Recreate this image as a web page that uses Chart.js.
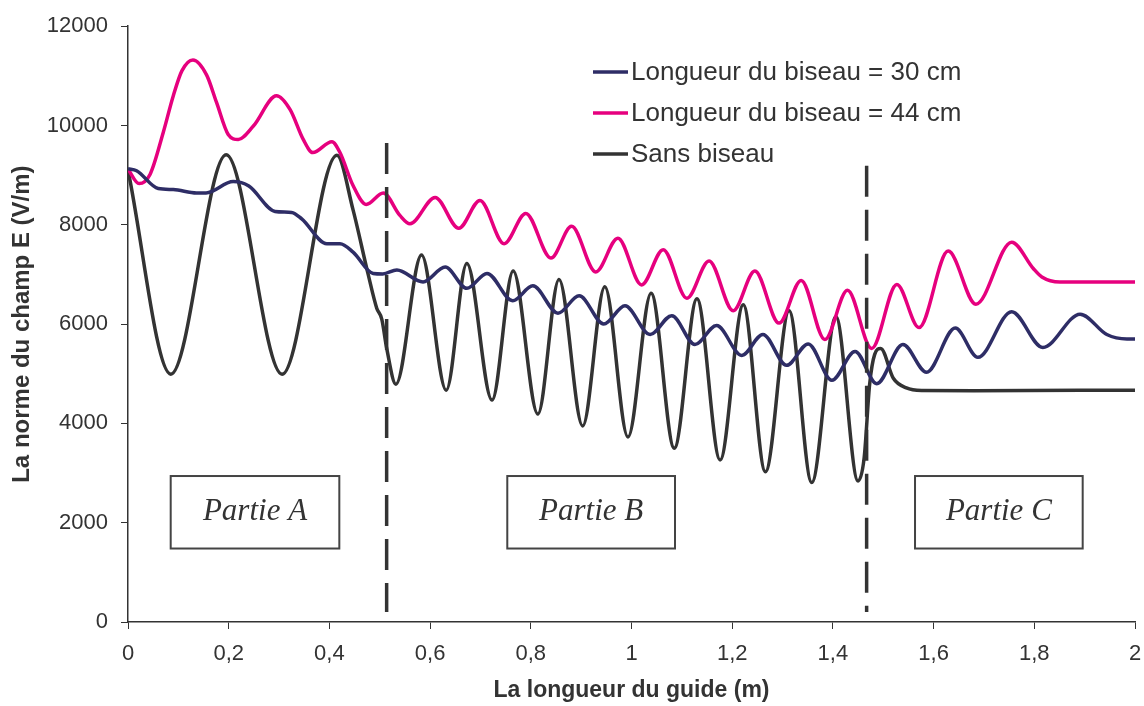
<!DOCTYPE html>
<html lang="fr">
<head>
<meta charset="utf-8">
<title>Norme du champ E</title>
<script src="https://cdn.jsdelivr.net/npm/chart.js@4/dist/chart.umd.min.js"></script>
<style>
  html, body { margin:0; padding:0; background:#fff; }
  #graphe { display:block; }
</style>
</head>
<body>
<canvas id="graphe" width="1144" height="706"></canvas>
<script>
// Valeurs (x en m, y en V/m)
const xBiseau30 = [0, 0.017, 0.060, 0.090, 0.136, 0.155, 0.209, 0.240, 0.292, 0.325, 0.345, 0.395, 0.421, 0.447, 0.487, 0.506, 0.534, 0.586, 0.630, 0.673, 0.713, 0.764, 0.804, 0.854, 0.896, 0.945, 0.987, 1.037, 1.080, 1.126, 1.169, 1.219, 1.261, 1.308, 1.351, 1.398, 1.444, 1.487, 1.539, 1.586, 1.643, 1.688, 1.755, 1.817, 1.891, 1.944, 1.984, 2.0];
const yBiseau30 = [9130, 9090, 8730, 8710, 8640, 8640, 8870, 8780, 8270, 8250, 8120, 7620, 7620, 7450, 7020, 7010, 7090, 6850, 7150, 6720, 7020, 6470, 6770, 6220, 6570, 6000, 6370, 5790, 6170, 5590, 5970, 5370, 5790, 5170, 5600, 4870, 5450, 4800, 5590, 5030, 5920, 5330, 6250, 5530, 6200, 5790, 5700, 5700];

const xBiseau44 = [0, 0.022, 0.044, 0.070, 0.090, 0.107, 0.129, 0.156, 0.176, 0.199, 0.219, 0.249, 0.295, 0.322, 0.348, 0.367, 0.405, 0.421, 0.447, 0.473, 0.507, 0.540, 0.560, 0.610, 0.657, 0.699, 0.747, 0.790, 0.840, 0.881, 0.929, 0.973, 1.020, 1.063, 1.110, 1.154, 1.202, 1.245, 1.293, 1.337, 1.384, 1.429, 1.477, 1.527, 1.571, 1.629, 1.684, 1.755, 1.798, 1.815, 1.851, 2.0];
const yBiseau44 = [9120, 8830, 9020, 9860, 10600, 11100, 11320, 11020, 10460, 9820, 9720, 9990, 10600, 10320, 9720, 9455, 9675, 9455, 8790, 8410, 8640, 8190, 8020, 8550, 7930, 8490, 7620, 8230, 7330, 7970, 7050, 7730, 6790, 7500, 6520, 7270, 6270, 7070, 6020, 6880, 5690, 6680, 5510, 6800, 5930, 7470, 6400, 7650, 7120, 6950, 6850, 6850];

const xSansBiseau = [0, 0.085, 0.195, 0.306, 0.415, 0.447, 0.477, 0.494, 0.504, 0.514, 0.532, 0.583, 0.632, 0.673, 0.723, 0.765, 0.814, 0.856, 0.903, 0.947, 0.993, 1.039, 1.085, 1.130, 1.176, 1.222, 1.266, 1.313, 1.358, 1.406, 1.450, 1.462, 1.473, 1.483, 1.495, 1.520, 1.546, 1.576, 1.680, 2.0];
const ySansBiseau = [9100, 4990, 9410, 4990, 9400, 8300, 7000, 6320, 6100, 5500, 4790, 7390, 4670, 7220, 4470, 7070, 4190, 6900, 3950, 6750, 3725, 6620, 3500, 6510, 3265, 6390, 3025, 6270, 2810, 6150, 2840, 3300, 4790, 5390, 5510, 4910, 4715, 4665, 4660, 4670];

// Séparations entre les parties (x en m, y de début et de fin)
const xSeparations = [0.5137, 1.467];
const ySepHaut = [9650, 9190];
const ySepBas = [200, 200];

const nomsSeries = ['Longueur du biseau = 30 cm', 'Longueur du biseau = 44 cm', 'Sans biseau'];
const couleurs = ['#2e2d66', '#e6007e', '#333333'];
const nomsParties = ['Partie A', 'Partie B', 'Partie C'];
const ticksX = [0, 0.2, 0.4, 0.6, 0.8, 1, 1.2, 1.4, 1.6, 1.8, 2];
const ticksY = [0, 2000, 4000, 6000, 8000, 10000, 12000];

function points(xs, ys){ return xs.map((x, i) => ({ x, y: ys[i] })); }

const courbes = [[xBiseau30, yBiseau30], [xBiseau44, yBiseau44], [xSansBiseau, ySansBiseau]].map((s, i) => ({
  label: nomsSeries[i],
  data: points(s[0], s[1]),
  borderColor: couleurs[i],
  backgroundColor: couleurs[i],
  borderWidth: 3.5,
  pointRadius: 0,
  cubicInterpolationMode: 'monotone',
  order: 2
}));

const separations = xSeparations.map((x, i) => ({
  label: '',
  pointilles: true,
  data: [{ x, y: ySepHaut[i] }, { x, y: ySepBas[i] }],
  borderColor: '#333333',
  borderWidth: 3.5,
  borderDash: [31, 13],
  pointRadius: 0,
  order: 1
}));

// Légende dessinée dans la zone du graphe
const legendeInterne = {
  id: 'legendeInterne',
  afterDraw(chart){
    const ctx = chart.ctx;
    ctx.save();
    ctx.font = '26px "Liberation Sans", Arial, sans-serif';
    ctx.textBaseline = 'middle';
    chart.data.datasets.filter(d => !d.pointilles).forEach((d, i) => {
      const y = 72 + i * 41;
      ctx.strokeStyle = d.borderColor;
      ctx.lineWidth = 3.5;
      ctx.beginPath(); ctx.moveTo(593, y); ctx.lineTo(628, y); ctx.stroke();
      ctx.fillStyle = '#333';
      ctx.fillText(d.label, 631, y + 1);
    });
    ctx.restore();
  }
};

// Cadres « Partie A/B/C »
const cadresParties = {
  id: 'cadresParties',
  afterDatasetsDraw(chart, args, opts){
    const {ctx, scales:{x, y}} = chart;
    ctx.save();
    opts.cadres.forEach((c, i) => {
      const x0 = x.getPixelForValue(c[0]), x1 = x.getPixelForValue(c[1]);
      const y0 = y.getPixelForValue(opts.haut), y1 = y.getPixelForValue(opts.bas);
      ctx.fillStyle = '#fff';
      ctx.fillRect(x0, y0, x1 - x0, y1 - y0);
      ctx.strokeStyle = '#444';
      ctx.lineWidth = 2;
      ctx.strokeRect(x0, y0, x1 - x0, y1 - y0);
      ctx.fillStyle = '#333';
      ctx.font = 'italic 31px "Liberation Serif", "Times New Roman", serif';
      ctx.textAlign = 'center';
      ctx.textBaseline = 'middle';
      ctx.fillText(nomsParties[i], (x0 + x1) / 2, (y0 + y1) / 2);
    });
    ctx.restore();
  }
};

const police = '"Liberation Sans", Arial, sans-serif';

new Chart(document.getElementById('graphe'), {
  type: 'line',
  data: { datasets: courbes.concat(separations) },
  plugins: [legendeInterne, cadresParties],
  options: {
    responsive: false,
    animation: false,
    devicePixelRatio: 1,
    layout: { padding: { top: 23, right: 9, left: 0, bottom: 0 } },
    plugins: {
      legend: { display: false },
      tooltip: { enabled: false },
      cadresParties: { cadres: [[0.0848, 0.4197], [0.7533, 1.0864], [1.5631, 1.8961]], haut: 2940, bas: 1480 }
    },
    scales: {
      x: {
        type: 'linear', min: 0, max: 2,
        afterBuildTicks: s => { s.ticks = ticksX.map(v => ({ value: v })); },
        afterFit: s => { s.height = 84; s.paddingLeft = 0; s.paddingRight = 0; },
        grid: { drawOnChartArea: false, color: '#333', tickLength: 7 },
        border: { color: '#333', width: 1.5 },
        ticks: {
          color: '#333', padding: 12, maxRotation: 0,
          font: { family: police, size: 22 },
          callback: v => String(Math.round(v * 10) / 10).replace('.', ',')
        },
        title: {
          display: true, text: 'La longueur du guide (m)', color: '#333',
          font: { family: police, size: 23, weight: 'bold' },
          padding: { top: 0, bottom: 2 }
        }
      },
      y: {
        min: 0, max: 12000,
        afterBuildTicks: s => { s.ticks = ticksY.map(v => ({ value: v })); },
        afterFit: s => { s.width = 128; },
        grid: { drawOnChartArea: false, color: '#333', tickLength: 7 },
        border: { color: '#333', width: 1.5 },
        ticks: { color: '#333', padding: 13, font: { family: police, size: 22 }, callback: v => String(v) },
        title: {
          display: true, text: 'La norme du champ E (V/m)', color: '#333',
          font: { family: police, size: 24, weight: 'bold' },
          padding: { top: 8, bottom: 0 }
        }
      }
    }
  }
});
</script>
</body>
</html>
